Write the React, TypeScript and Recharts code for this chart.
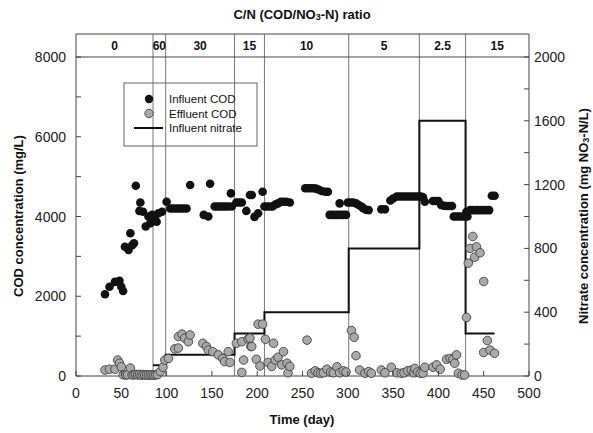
import React from 'react';
import { ComposedChart, XAxis, YAxis, Scatter, Line, ReferenceLine, ReferenceArea } from 'recharts';

// influent COD (mg/L)
const influentDay = [
  32, 37, 43, 48, 50, 52, 54, 58, 60, 62, 64, 66, 70, 71, 74, 77, 80, 82, 84, 87, 89, 91, 95,
  100, 104, 107, 110, 113, 116, 119, 122, 126, 141, 146, 148, 153, 156, 159, 162, 165, 168, 171, 172,
  177, 180, 183, 188, 192, 194, 197, 201, 206, 208, 211, 214, 217, 220, 223, 226, 229, 232, 236,
  253, 256, 259, 262, 265, 268, 271, 275, 278, 280, 283, 286, 289, 291, 292, 295, 298,
  300, 303, 306, 309, 312, 315, 317, 320, 323, 337, 341, 347, 350, 354, 357, 360, 363, 366, 369,
  372, 375, 378, 381, 383, 385, 394, 397, 400, 403, 406, 409, 412, 415, 417, 420, 423, 426, 429,
  432, 431, 435, 438, 441, 444, 447, 450, 453, 456, 459, 462,
];
const influentCod = [
  2050, 2240, 2360, 2390, 2240, 2130, 3240, 3160, 3580, 3280, 3330, 4770, 4140, 4350, 4120, 3750, 4000, 3830, 4040, 3950, 3870, 4080, 4120,
  4370, 4200, 4200, 4200, 4200, 4200, 4200, 4200, 4790, 4040, 4000, 4820, 4250, 4250, 4250, 4250, 4250, 4250, 4580, 4250,
  4350, 4350, 4350, 4140, 4540, 4540, 3990, 4080, 4620, 4250, 4250, 4250, 4250, 4300, 4330, 4370, 4370, 4370, 4350,
  4710, 4710, 4710, 4710, 4700, 4670, 4640, 4620, 4620, 4040, 4040, 4040, 4040, 4330, 4040, 4040, 4040,
  4350, 4350, 4350, 4330, 4290, 4250, 4210, 4170, 4160, 4180, 4180, 4400, 4450, 4500, 4500, 4500, 4500, 4500, 4500,
  4500, 4500, 4500, 4500, 4480, 4370, 4390, 4390, 4390, 4290, 4270, 4265, 4265, 4265, 4000, 4000, 4000, 4000, 4000,
  4000, 4120, 4160, 4160, 4160, 4160, 4160, 4160, 4160, 4160, 4520, 4520,
];

// effluent COD (mg/L)
const effluentDay = [
  32, 37, 43, 46, 48, 50, 52, 55, 57, 60, 62, 64, 66, 68, 70, 72, 74, 76, 78, 80, 82, 84, 86, 88, 90,
  93, 96, 98, 102, 109, 113, 113, 117, 120, 124, 126, 140, 144, 146, 151, 157, 162, 164, 168, 170,
  177, 183, 183, 185, 190, 193, 192, 194, 199, 201, 203, 206, 209, 212, 216, 218, 220, 223, 227, 229,
  233, 234, 236, 255, 260, 264, 267, 270, 273, 277, 281, 284, 288, 291, 295, 298,
  304, 307, 309, 313, 319, 323, 326, 337, 341, 348, 354, 359, 362, 366, 370, 373, 374, 377, 380, 383,
  385, 394, 398, 402, 409, 413, 416, 418, 420, 422, 426, 429,
  431, 433, 435, 438, 440, 442, 446, 450, 450, 454, 457, 462,
];
const effluentCod = [
  150, 170, 170, 400, 320, 230, 30, 25, 30, 200, 25, 30, 40, 25, 40, 20, 35, 25, 30, 20, 30, 25, 20, 30, 35,
  110, 220, 400, 440, 680, 700, 990, 1050, 950, 860, 1030, 820, 740, 650, 610, 530, 440, 360, 610, 340,
  820, 860, 90, 400, 930, 740, 950, 740, 420, 1300, 250, 1300, 920, 340, 240, 820, 400, 470, 280, 610,
  320, 80, 240, 900, 70, 130, 80, 70, 80, 170, 100, 80, 230, 80, 130, 100,
  1140, 970, 510, 150, 70, 110, 70, 150, 80, 220, 80, 70, 80, 130, 150, 80, 190, 100, 70, 70,
  220, 220, 280, 170, 420, 440, 420, 320, 530, 70, 25, 25,
  1470, 2830, 3200, 3500, 2980, 3240, 3090, 2370, 590, 890, 650, 570,
];

// influent nitrate (mg NO3-N/L)
const nitrateDay = [85, 99, 175, 208, 301, 379, 430, 462];
const nitrateConc = [67, 133, 267, 400, 800, 1600, 267, 267];

// C/N ratio phases
const phaseStart = [0, 85, 99, 175, 208, 301, 379, 430];
const phaseEnd = [85, 99, 175, 208, 301, 379, 430, 500];
const phaseRatio = ['0', '60', '30', '15', '10', '5', '2.5', '15'];

const xTicks = [0, 50, 100, 150, 200, 250, 300, 350, 400, 450, 500];
const codTicks = [0, 1000, 2000, 3000, 4000, 5000, 6000, 7000, 8000];
const nitrateTicks = [0, 200, 400, 600, 800, 1000, 1200, 1400, 1600, 1800, 2000];

const COD_TOP = 8577;
const NIT_TOP = 2144.2;

const influent = influentDay.map((x, i) => ({ x, y: influentCod[i] }));
const effluent = effluentDay.map((x, i) => ({ x, y: effluentCod[i] }));
const nitrate = nitrateDay.map((x, i) => ({ x, y: nitrateConc[i] }));

const font = '"Liberation Sans", Arial, sans-serif';
const axisColor = '#444';

const BottomTick = (p: any) => (
  <g>
    <line x1={p.x} y1={p.y} x2={p.x} y2={p.y - 5} stroke={axisColor} />
    <text x={p.x} y={p.y + 17} textAnchor="middle" dominantBaseline="central" fontSize={14} fill="#222" fontFamily={font}>
      {p.payload.value}
    </text>
  </g>
);

const LeftTick = (p: any) => (
  <g>
    <line x1={p.x} y1={p.y} x2={p.x + 5} y2={p.y} stroke={axisColor} />
    {p.payload.value % 2000 === 0 && (
      <text x={p.x - 10} y={p.y} textAnchor="end" dominantBaseline="central" fontSize={14} fill="#222" fontFamily={font}>
        {p.payload.value}
      </text>
    )}
  </g>
);

const RightTick = (p: any) => (
  <g>
    <line x1={p.x} y1={p.y} x2={p.x - 5} y2={p.y} stroke={axisColor} />
    {p.payload.value % 400 === 0 && (
      <text x={p.x + 5} y={p.y} textAnchor="start" dominantBaseline="central" fontSize={14} fill="#222" fontFamily={font}>
        {p.payload.value}
      </text>
    )}
  </g>
);

const blackDot = (p: any) => <circle cx={p.cx} cy={p.cy} r={4.3} fill="#111" />;
const grayDot = (p: any) => <circle cx={p.cx} cy={p.cy} r={4.3} fill="#a9a9a9" stroke="#333" strokeWidth={0.8} />;

export default function App() {
  return (
    <div style={{ position: 'absolute', left: 0, top: 0, width: 593, height: 433, background: '#fff', fontFamily: font }}>
      <ComposedChart width={593} height={433} margin={{ top: 34, right: 0, bottom: 0, left: 0 }}>
        <XAxis
          dataKey="x"
          type="number"
          domain={[0, 500]}
          ticks={xTicks}
          interval={0}
          height={57}
          tickSize={0}
          tickMargin={0}
          tickLine={false}
          tick={BottomTick}
          axisLine={{ stroke: axisColor }}
        />
        <YAxis
          yAxisId="l"
          dataKey="y"
          type="number"
          domain={[0, COD_TOP]}
          ticks={codTicks}
          interval={0}
          width={76}
          tickSize={0}
          tickMargin={0}
          tickLine={false}
          tick={LeftTick}
          axisLine={{ stroke: axisColor }}
        />
        <YAxis
          yAxisId="r"
          dataKey="y"
          orientation="right"
          type="number"
          domain={[0, NIT_TOP]}
          ticks={nitrateTicks}
          interval={0}
          width={64}
          tickSize={0}
          tickMargin={0}
          tickLine={false}
          tick={RightTick}
          axisLine={{ stroke: axisColor }}
        />
        {phaseRatio.map((r, i) => (
          <ReferenceArea
            key={'a' + i}
            yAxisId="l"
            x1={phaseStart[i]}
            x2={phaseEnd[i]}
            y1={8000}
            y2={COD_TOP}
            fill="none"
            fillOpacity={0}
            strokeWidth={0}
            label={{ value: r, position: 'center', fontSize: 12, fontWeight: 'bold', fill: '#111', fontFamily: font }}
          />
        ))}
        {phaseStart.slice(1).map((d) => (
          <ReferenceLine key={'v' + d} yAxisId="l" x={d} stroke="#777" strokeWidth={1} />
        ))}
        <ReferenceLine yAxisId="l" y={8000} stroke={axisColor} />
        <ReferenceLine yAxisId="l" y={COD_TOP} stroke={axisColor} ifOverflow="visible" />
        <Line
          yAxisId="r"
          data={nitrate}
          dataKey="y"
          type="stepAfter"
          stroke="#111"
          strokeWidth={2}
          dot={false}
          isAnimationActive={false}
        />
        <Scatter yAxisId="l" data={effluent} dataKey="y" shape={grayDot} isAnimationActive={false} />
        <Scatter yAxisId="l" data={influent} dataKey="y" shape={blackDot} isAnimationActive={false} />
      </ComposedChart>
      <svg width={593} height={433} style={{ position: 'absolute', left: 0, top: 0, pointerEvents: 'none' }} fontFamily={font}>
        <text x={302} y={14} textAnchor="middle" dominantBaseline="central" fontSize={13} fontWeight="bold" fill="#111">
          C/N (COD/NO<tspan dy={3} fontSize={9}>3</tspan><tspan dy={-3}>-N) ratio</tspan>
        </text>
        <text x={302} y={419} textAnchor="middle" dominantBaseline="central" fontSize={13} fontWeight="bold" fill="#111">
          Time (day)
        </text>
        <text transform="translate(18,216) rotate(-90)" textAnchor="middle" dominantBaseline="central" fontSize={13} fontWeight="bold" fill="#111">
          COD concentration (mg/L)
        </text>
        <text transform="translate(583,216) rotate(-90)" textAnchor="middle" dominantBaseline="central" fontSize={13} fontWeight="bold" fill="#111">
          Nitrate concentration (mg NO<tspan dy={3} fontSize={9}>3</tspan><tspan dy={-3}>-N/L)</tspan>
        </text>
        <rect x={124} y={83} width={133} height={63} fill="none" stroke="#666" strokeWidth={1} />
        <circle cx={149} cy={99} r={4.2} fill="#111" />
        <text x={169} y={99} dominantBaseline="central" fontSize={11.5} fill="#111">Influent COD</text>
        <circle cx={149} cy={113.5} r={4.2} fill="#a9a9a9" stroke="#333" strokeWidth={0.8} />
        <text x={169} y={113.5} dominantBaseline="central" fontSize={11.5} fill="#111">Effluent COD</text>
        <line x1={134} x2={163} y1={128} y2={128} stroke="#111" strokeWidth={2} />
        <text x={169} y={128} dominantBaseline="central" fontSize={11.5} fill="#111">Influent nitrate</text>
      </svg>
    </div>
  );
}
